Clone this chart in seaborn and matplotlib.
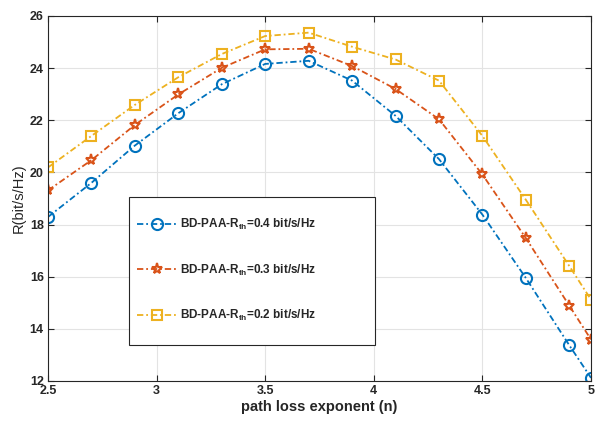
import seaborn as sns
import matplotlib.pyplot as plt
from matplotlib.patches import Rectangle
import pandas as pd

# 数据：路径损耗指数与速率
n_values = [2.5, 2.7, 2.9, 3.1, 3.3, 3.5, 3.7, 3.9, 4.1, 4.3, 4.5, 4.7, 4.9, 5.0]
rate_r04 = [18.29, 19.60, 21.03, 22.27, 23.38, 24.16, 24.28, 23.52, 22.17, 20.51, 18.38, 15.95, 13.37, 12.12]
rate_r03 = [19.31, 20.47, 21.82, 22.99, 24.01, 24.72, 24.74, 24.08, 23.20, 22.04, 19.92, 17.48, 14.89, 13.59]
rate_r02 = [20.19, 21.40, 22.59, 23.65, 24.54, 25.23, 25.36, 24.82, 24.33, 23.52, 21.40, 18.95, 16.41, 15.12]

labels = [r'BD-PAA-R$_{\mathbf{th}}$=0.4 bit/s/Hz',
          r'BD-PAA-R$_{\mathbf{th}}$=0.3 bit/s/Hz',
          r'BD-PAA-R$_{\mathbf{th}}$=0.2 bit/s/Hz']
colors = ['#0072BD', '#D95319', '#EDB120']
markers = ['o', '*', 's']
marker_sizes = [8, 8, 6.5]

df = pd.DataFrame({'n': n_values * 3,
                   'rate': rate_r04 + rate_r03 + rate_r02,
                   'series': [labels[0]] * len(n_values) + [labels[1]] * len(n_values)
                   + [labels[2]] * len(n_values)})

sns.set_style('ticks')
plt.rcParams['font.family'] = ['Liberation Sans', 'DejaVu Sans']
plt.rcParams['mathtext.fontset'] = 'custom'
plt.rcParams['mathtext.bf'] = 'Liberation Sans:bold'
plt.rcParams['mathtext.rm'] = 'Liberation Sans'

fig = plt.figure(figsize=(6, 4.23), dpi=100)
ax = fig.add_axes([0.08, 0.0993, 0.905, 0.863])

for lab, c, m, ms in zip(labels, colors, markers, marker_sizes):
    sub = df[df['series'] == lab]
    sns.lineplot(data=sub, x='n', y='rate', ax=ax, color=c, linestyle=(0, (3.5, 1.6, 1, 1.6)),
                 linewidth=1.3, marker=m, markersize=ms, markerfacecolor='none',
                 markeredgecolor=c, markeredgewidth=1.5, label=lab)

ax.set_xlim(2.5, 5)
ax.set_ylim(12, 26)
ax.set_xticks([2.5, 3, 3.5, 4, 4.5, 5])
ax.set_xticklabels(['2.5', '3', '3.5', '4', '4.5', '5'])
ax.set_yticks(range(12, 27, 2))
ax.grid(True, color='#e3e3e3', linewidth=0.8)
ax.tick_params(direction='in', top=True, right=True, length=4, width=0.8,
               labelsize=9, colors='#262626', pad=3)
for t in ax.get_xticklabels() + ax.get_yticklabels():
    t.set_fontweight('bold')
for s in ax.spines.values():
    s.set_color('#262626')
    s.set_linewidth(0.8)

ax.set_xlabel('path loss exponent (n)', fontsize=10.5, fontweight='bold', color='#262626', labelpad=2)
ax.set_ylabel('R(bit/s/Hz)', fontsize=10.5, color='#262626', labelpad=3)

# 图例框
box = Rectangle((0.149, 0.0986), 0.453, 0.405, transform=ax.transAxes, facecolor='white',
                edgecolor='#262626', linewidth=0.8, zorder=4)
ax.add_patch(box)
leg = ax.legend(loc='center left', bbox_to_anchor=(0.164, 0.304), frameon=False,
                prop={'weight': 'bold', 'size': 8.5}, labelspacing=2.6,
                handlelength=3.4, handletextpad=0.25, borderpad=0, borderaxespad=0)
leg.set_zorder(5)

plt.savefig('out.png', dpi=100)
